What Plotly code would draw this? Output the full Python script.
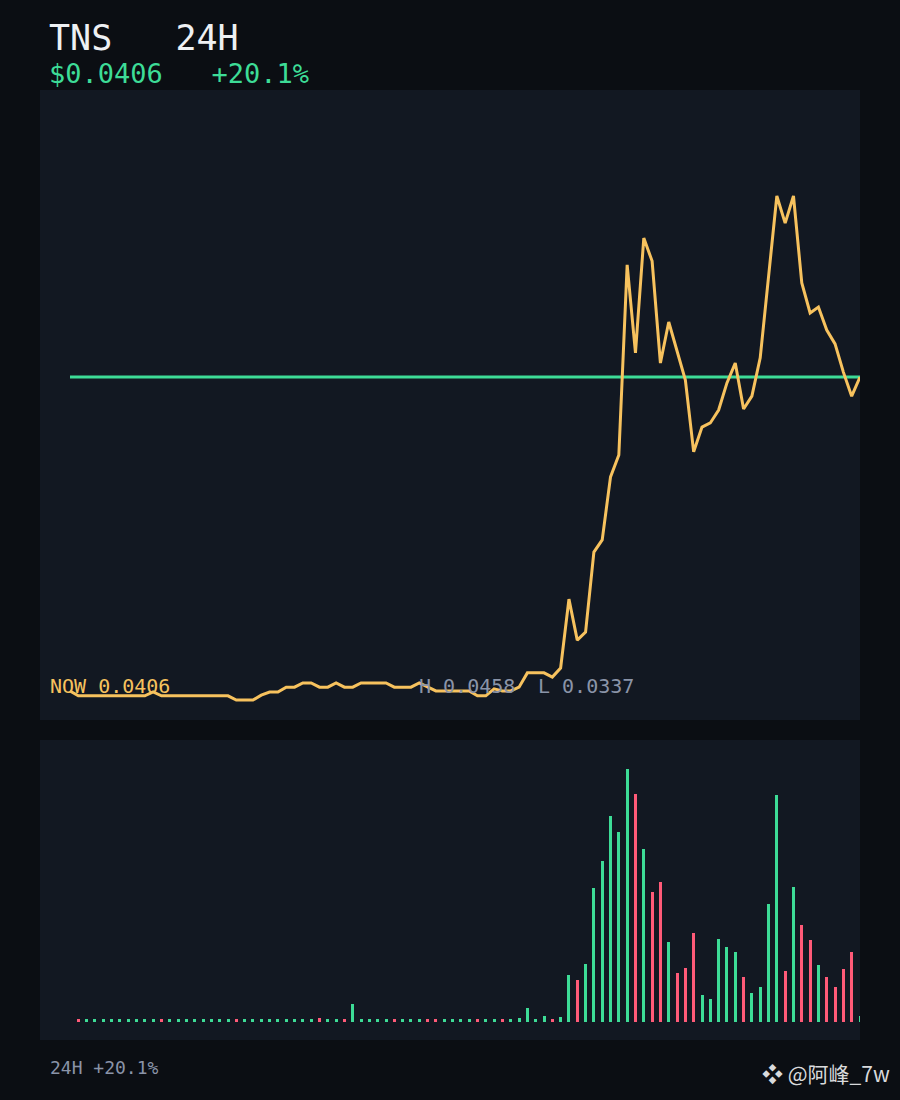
import plotly.graph_objects as go

# ---------------- data ----------------
symbol = "TNS"
period = "24H"
now_price = "0.0406"
change_pct = "+20.1%"
high_label = "0.0458"
low_label = "0.0337"
watermark = "@阿峰_7w"

prices = [
    0.03158, 0.03144, 0.03144, 0.03144, 0.03144, 0.03144, 0.03144, 0.03144,
    0.03144, 0.03144, 0.03155, 0.03144, 0.03144, 0.03144, 0.03144, 0.03144,
    0.03144, 0.03144, 0.03144, 0.03144, 0.03132, 0.03132, 0.03132, 0.03146,
    0.03155, 0.03155, 0.03169, 0.03169, 0.03181, 0.03181, 0.03169, 0.03169,
    0.03181, 0.03169, 0.03169, 0.03181, 0.03181, 0.03181, 0.03181, 0.03169,
    0.03169, 0.03169, 0.03181, 0.03169, 0.03158, 0.03158, 0.03158, 0.03158,
    0.03158, 0.03144, 0.03144, 0.03164, 0.03158, 0.03158, 0.03169, 0.03210,
    0.03210, 0.03210, 0.03198, 0.03224, 0.03422, 0.03304, 0.03327, 0.03557,
    0.03592, 0.03773, 0.03836, 0.04382, 0.04129, 0.04459, 0.04393, 0.04100,
    0.04218, 0.04138, 0.04051, 0.03845, 0.03916, 0.03928, 0.03965, 0.04043,
    0.04100, 0.03968, 0.04005, 0.04115, 0.04347, 0.04580, 0.04502, 0.04580,
    0.04330, 0.04244, 0.04261, 0.04195, 0.04155, 0.04074, 0.04005, 0.04060,
]

volumes = [
    None, 3, 3, 3, 3, 3, 3, 3, 3, 3, 3, 3, 3, 3, 3, 3,
    3, 3, 3, 3, 3, 3, 3, 3, 3, 3, 3, 3, 3, 3, 4, 3,
    3, 3, 18, 3, 3, 3, 3, 3, 3, 3, 3, 3, 3, 3, 3, 3,
    3, 3, 3, 3, 3, 3, 4, 14, 3, 6, 3, 5, 47, 42,
    58, 134, 161, 206, 190, 253, 228, 173, 130, 140, 80, 49, 54, 89,
    27, 23, 83, 75, 70, 45, 29, 35, 118, 227, 51, 135, 97, 82,
    57, 45, 35, 53, 70, 6,
]

# ---------------- style ----------------
PAGE_BG = "#0b0e13"
PANEL_BG = "#121822"
ORANGE = "#f7c25e"
GREEN = "#3ddc97"
RED = "#ff5a78"
GREY = "#8a94a8"
WHITE = "#eef0f3"
MONO = "DejaVu Sans Mono, monospace"
NB = "\u00a0"

idx = list(range(len(prices)))
bar_colors = [GREEN]
for i in range(1, len(prices)):
    bar_colors.append(RED if prices[i] < prices[i - 1] else GREEN)

W, H = 900, 1100


def px_x(x):
    return x / W


def px_y(y):
    return 1 - y / H


fig = go.Figure()

# current price reference line
fig.add_trace(go.Scatter(
    x=[idx[0], idx[-1]], y=[prices[-1], prices[-1]], mode="lines",
    line=dict(color=GREEN, width=3), xaxis="x", yaxis="y",
    hoverinfo="skip", showlegend=False,
))
# price line
fig.add_trace(go.Scatter(
    x=idx, y=prices, mode="lines",
    line=dict(color=ORANGE, width=3), xaxis="x", yaxis="y",
    hoverinfo="skip", showlegend=False,
))
# volume bars
fig.add_trace(go.Bar(
    x=idx, y=volumes, marker=dict(color=bar_colors, line=dict(width=0)),
    width=0.36, xaxis="x2", yaxis="y2", hoverinfo="skip", showlegend=False,
))

step = 790 / 95.0
xrange = [-30 / step, 95]

fig.update_layout(
    width=W, height=H,
    margin=dict(l=0, r=0, t=0, b=0),
    paper_bgcolor=PAGE_BG,
    plot_bgcolor=PANEL_BG,
    xaxis=dict(domain=[px_x(40), px_x(860)], range=xrange, visible=False),
    yaxis=dict(domain=[px_y(720), px_y(90)], range=[0.030746, 0.048845], visible=False),
    xaxis2=dict(domain=[px_x(40), px_x(860)], range=xrange, visible=False, anchor="y2"),
    yaxis2=dict(domain=[px_y(1040), px_y(740)], range=[-18, 282], visible=False, anchor="x2"),
    bargap=0,
)


def ann(text, x, y, size, color, family=MONO, xanchor="left", yanchor="middle"):
    fig.add_annotation(
        text=text, xref="paper", yref="paper", x=px_x(x), y=px_y(y),
        xanchor=xanchor, yanchor=yanchor, showarrow=False,
        font=dict(family=family, size=size, color=color),
    )


header = (
    f"<span style='font-size:35px;color:{WHITE}'>{symbol}{NB}{NB}{NB}{period}</span><br>"
    f"<span style='font-size:27px;color:{GREEN}'>${now_price}{NB}{NB}{NB}{change_pct}</span>"
)
fig.add_annotation(
    text=header, xref="paper", yref="paper", x=px_x(47), y=px_y(16),
    xanchor="left", yanchor="top", align="left", showarrow=False,
    font=dict(family=MONO, size=25.4, color=WHITE),
)

ann("NOW " + now_price, 48, 686, 20, ORANGE)
ann("H " + high_label, 417, 686, 20, GREY)
ann("L " + low_label, 536, 686, 20, GREY)
ann(period + " " + change_pct, 48, 1067, 18, GREY)
ann("❖ " + watermark, 892, 1073, 21, "#d9dadc",
    family="Noto Sans CJK SC, DejaVu Sans, sans-serif", xanchor="right")

fig.write_html("out.html", config={"displayModeBar": False},
               post_script="document.body.style.margin='0';")
